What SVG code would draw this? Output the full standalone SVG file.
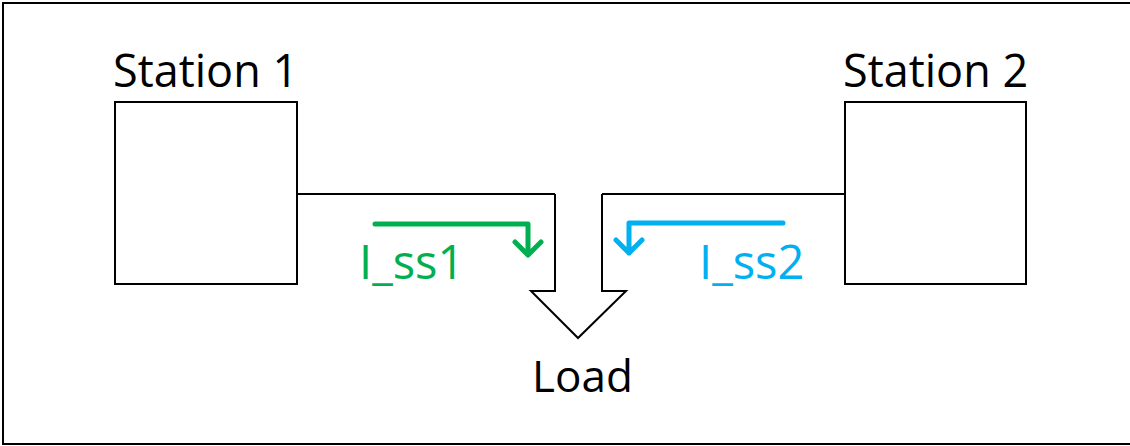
<svg xmlns="http://www.w3.org/2000/svg" width="1130" height="446" viewBox="0 0 1130 446">
<style>
.frame{fill:#fff;stroke:#000;stroke-width:2}
.box{fill:#fff;stroke:#000;stroke-width:2}
.wire{fill:none;stroke:#000;stroke-width:2}
.lbl{font-family:"Open Sans",sans-serif;font-size:44px;fill:#000}
.big{font-size:45px}
.cl{font-size:47px}
.cur{fill:none;stroke-width:5;stroke-linecap:round;stroke-linejoin:round}
</style>
<rect class="frame" x="3" y="3" width="1140" height="441"/>
<g id="station1">
<rect class="box" x="115" y="102" width="182" height="182"/>
<text class="lbl big" x="113" y="87">Station 1</text>
</g>
<g id="station2">
<rect class="box" x="845" y="102" width="181" height="182"/>
<text class="lbl big" x="843" y="87">Station 2</text>
</g>
<g id="load">
<path class="box" d="M555,194 V291 H531 L578,338 L626,291 H602 V194"/>
<text class="lbl" x="532" y="392">Load</text>
</g>
<g id="connectors">
<path class="wire" d="M297,194 H555 M602,194 H845"/>
<g id="i_ss1">
<path class="cur" stroke="#00b050" d="M375,224 H528 V255 M515,242 L528,255 L541,242"/>
<text class="lbl cl" x="359" y="279" style="fill:#00b050">I_ss1</text>
</g>
<g id="i_ss2">
<path class="cur" stroke="#00b0f0" d="M783,223 H629 V253 M616,240 L629,253 L642,240"/>
<text class="lbl cl" x="699" y="279" style="fill:#00b0f0">I_ss2</text>
</g>
</g>
</svg>
